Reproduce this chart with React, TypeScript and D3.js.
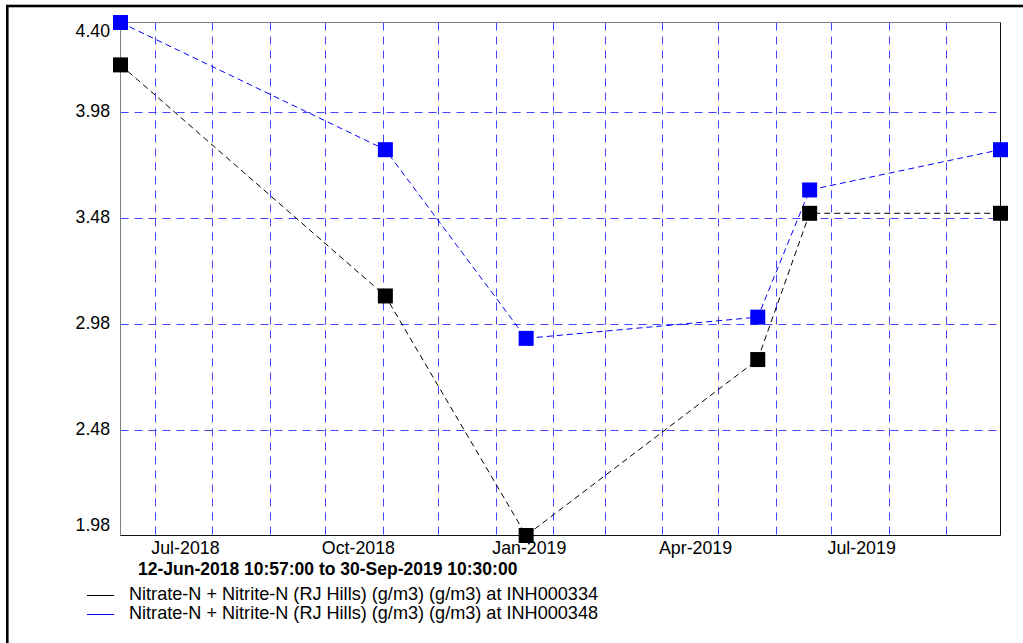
import React from "react";
import * as d3 from "d3";

const sampleTimes = [
  "2018-06-12 10:57:00",
  "2018-11-02 10:00:00",
  "2019-01-17 10:00:00",
  "2019-05-22 10:00:00",
  "2019-06-19 10:00:00",
  "2019-09-30 10:30:00",
];
const seriesINH000334 = [4.2, 3.11, 1.98, 2.81, 3.5, 3.5];
const seriesINH000348 = [4.4, 3.8, 2.91, 3.01, 3.61, 3.8];
const yTicks = [1.98, 2.48, 2.98, 3.48, 3.98, 4.4];
const rangeStart = "2018-06-12 10:57:00";
const rangeEnd = "2019-09-30 10:30:00";
const legendLabels = [
  "Nitrate-N + Nitrite-N (RJ Hills) (g/m3) (g/m3) at INH000334",
  "Nitrate-N + Nitrite-N (RJ Hills) (g/m3) (g/m3) at INH000348",
];
const seriesColors = ["#000000", "#0000ff"];

const parse = d3.timeParse("%Y-%m-%d %H:%M:%S");

export default function App() {
  const W = 1023;
  const H = 643;
  const left = 120.5;
  const right = 1000.5;
  const top = 22.5;
  const bottom = 535.5;
  const t0 = parse(rangeStart) as Date;
  const t1 = parse(rangeEnd) as Date;
  const x = d3.scaleTime().domain([t0, t1]).range([left, right]);
  const y = d3.scaleLinear().domain([1.98, 4.4]).range([bottom, top]);
  const times = sampleTimes.map((s) => parse(s) as Date);
  const months = d3.timeMonth.range(d3.timeMonth.ceil(t0), t1);
  const quarterMonths = months.filter((m) => m.getMonth() % 3 === 0);
  const fmtMonth = d3.timeFormat("%b-%Y");
  const fmtFull = d3.timeFormat("%d-%b-%Y %H:%M:%S");
  const font = "'Liberation Sans', Arial, sans-serif";
  const gridColor = "#4444ff";

  const series = [seriesINH000334, seriesINH000348];
  const lineGen = d3
    .line<number>()
    .x((_, i) => x(times[i]))
    .y((v) => y(v));

  const ms = 15;

  return (
    <svg
      width={W}
      height={H}
      style={{ position: "absolute", left: 0, top: 0, background: "#fff" }}
      fontFamily={font}
    >
      <rect x={0} y={0} width={W} height={H} fill="#fff" />
      <rect
        x={7.3}
        y={6}
        width={1200}
        height={800}
        fill="none"
        stroke="#000"
        strokeWidth={2.6}
      />
      {/* grid */}
      {months.map((m, i) => (
        <line
          key={"vg" + i}
          x1={Math.round(x(m)) + 0.5}
          x2={Math.round(x(m)) + 0.5}
          y1={top}
          y2={bottom}
          stroke={gridColor}
          strokeWidth={1}
          strokeDasharray="8,6"
        />
      ))}
      {yTicks
        .filter((v) => v > 1.98 && v < 4.4)
        .map((v, i) => (
          <line
            key={"hg" + i}
            x1={left}
            x2={right}
            y1={Math.round(y(v)) + 0.5}
            y2={Math.round(y(v)) + 0.5}
            stroke={gridColor}
            strokeWidth={1}
            strokeDasharray="8,6"
          />
        ))}
      {/* axes frame */}
      <line x1={left} x2={right} y1={top} y2={top} stroke="#808080" strokeWidth={1} />
      <line x1={left} x2={left} y1={top} y2={bottom} stroke="#808080" strokeWidth={1} />
      <line x1={right} x2={right} y1={top} y2={bottom} stroke="#111" strokeWidth={1} />
      <line x1={left} x2={right} y1={bottom} y2={bottom} stroke="#111" strokeWidth={1} />
      {/* y labels */}
      {yTicks.map((v, i) => {
        const base = Math.min(530.5, Math.max(36.5, y(v) + 5));
        return (
          <text
            key={"yl" + i}
            x={110}
            y={base}
            textAnchor="end"
            fontSize={17.7}
            fill="#000"
          >
            {v.toFixed(2)}
          </text>
        );
      })}
      {/* x labels */}
      {quarterMonths.map((m, i) => (
        <text key={"xl" + i} x={x(m) - 3.5} y={554} fontSize={17.8} fill="#000">
          {fmtMonth(m)}
        </text>
      ))}
      <text x={138} y={575} fontSize={17.5} fontWeight="bold" fill="#000">
        {fmtFull(t0) + " to " + fmtFull(t1)}
      </text>
      {/* data lines */}
      {series.map((s, si) => (
        <path
          key={"ln" + si}
          d={lineGen(s) || ""}
          fill="none"
          stroke={seriesColors[si]}
          strokeWidth={1}
          strokeDasharray="6,4"
        />
      ))}
      {/* markers */}
      {series.map((s, si) =>
        s.map((v, i) => (
          <rect
            key={"mk" + si + "-" + i}
            x={x(times[i]) - ms / 2}
            y={y(v) - ms / 2}
            width={ms}
            height={ms}
            fill={seriesColors[si]}
          />
        ))
      )}
      {/* legend */}
      {legendLabels.map((lab, i) => (
        <g key={"lg" + i}>
          <line
            x1={87}
            x2={114}
            y1={595.5 + i * 19}
            y2={595.5 + i * 19}
            stroke={seriesColors[i]}
            strokeWidth={1}
          />
          <text x={129} y={600 + i * 19.3} fontSize={18.1} fill="#000">
            {lab}
          </text>
        </g>
      ))}
    </svg>
  );
}
